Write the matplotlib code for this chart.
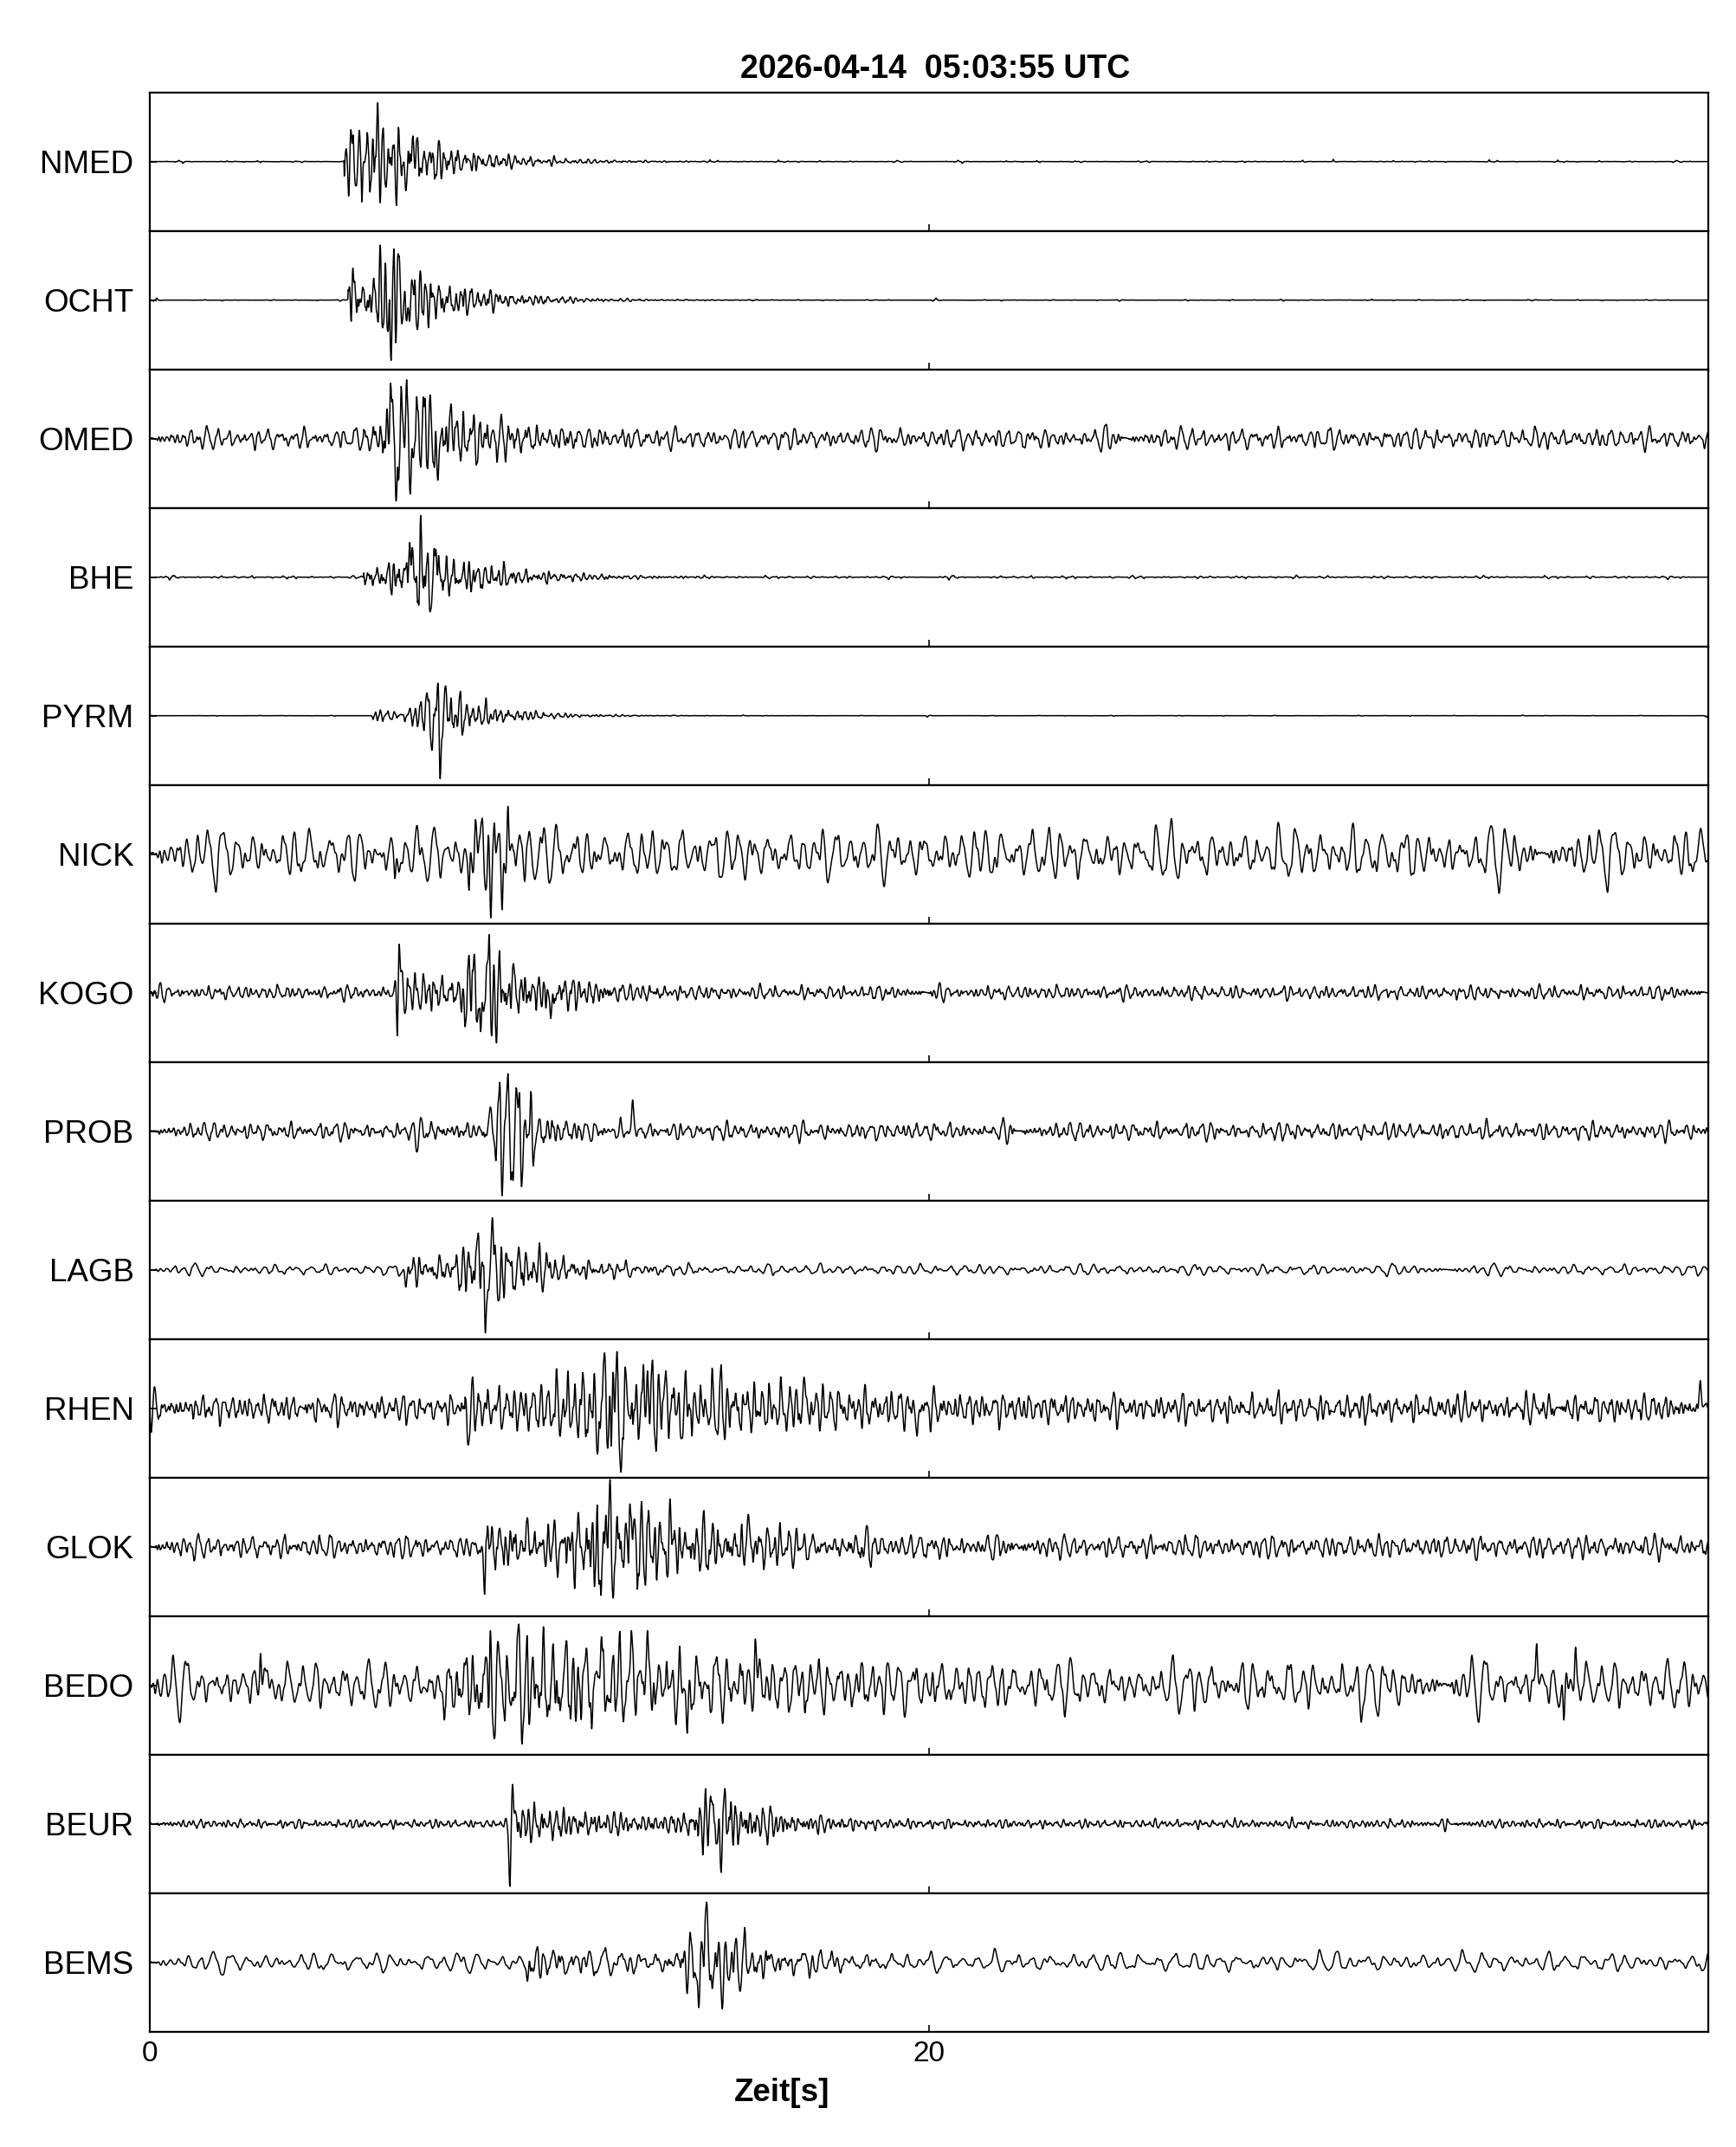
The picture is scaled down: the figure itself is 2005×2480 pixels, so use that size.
import numpy as np
import matplotlib.pyplot as plt

plt.rcParams['font.family'] = ['Liberation Sans', 'DejaVu Sans']

title = '2026-04-14  05:03:55 UTC'
stations = ['NMED', 'OCHT', 'OMED', 'BHE', 'PYRM', 'NICK', 'KOGO',
            'PROB', 'LAGB', 'RHEN', 'GLOK', 'BEDO', 'BEUR', 'BEMS']

# trace amplitudes are in units of half a panel height
noise_lvl = [0.03, 0.03, 0.12, 0.04, 0.02, 0.30, 0.08, 0.10, 0.06, 0.16, 0.13, 0.28, 0.05, 0.11]
noise_freq = [5.0, 5.0, 4.0, 5.0, 5.0, 2.8, 5.0, 4.5, 3.0, 5.0, 4.5, 3.0, 6.0, 2.4]
noise_shape = [3, 3, 1, 2, 3, 1, 1, 1, 1, 1, 1, 1, 1, 1]
sig_freq = [6.0, 6.0, 5.5, 6.0, 6.0, 4.0, 6.0, 5.0, 5.5, 5.0, 5.5, 4.5, 6.0, 4.5]

p_time = [5.0, 5.1, 5.5, 5.5, 5.7, 8.2, 6.37, 6.86, 6.6, 8.1, 8.55, 7.6, 9.25, 9.7]
p_amp = [0.35, 0.30, 0.15, 0.15, 0.08, 0.20, 0.30, 0.10, 0.20, 0.30, 0.35, 0.30, 0.25, 0.20]
p_decay = [2.0, 2.0, 2.0, 2.0, 2.0, 1.5, 2.0, 2.0, 2.0, 4.0, 3.0, 4.0, 4.0, 3.0]
s_time = [5.9, 6.2, 6.6, 6.9, 7.4, 8.8, 8.5, 9.2, 8.6, 11.9, 11.9, 10.5, 14.5, 14.4]
s_amp = [0.30, 0.40, 0.55, 0.35, 0.35, 0.30, 0.45, 0.50, 0.40, 0.50, 0.50, 0.50, 0.35, 0.45]
s_rise = [0.4, 0.4, 0.6, 0.6, 0.5, 0.4, 0.5, 0.4, 0.6, 1.5, 1.2, 2.0, 0.6, 0.8]
coda_tau = [1.6, 1.5, 2.2, 1.8, 1.2, 0.8, 1.8, 1.0, 1.8, 6.0, 3.5, 6.0, 1.5, 1.8]

# prominent peaks: times [s] and amplitudes
spike_t = [
    [5.05, 5.12, 5.17, 5.30, 5.86, 5.92, 6.00, 6.07, 6.58, 6.76],
    [5.15, 5.19, 5.22, 5.93, 5.98, 6.20, 6.28, 6.33, 6.38, 6.60, 7.82],
    [6.19, 6.33, 6.60, 6.69, 7.03, 7.40, 7.74],
    [6.68, 6.93, 6.96, 7.20, 7.35],
    [7.12, 7.25, 7.42, 7.46, 7.60],
    [6.30, 8.20, 8.37, 8.54, 8.76, 8.85, 9.05, 9.20],
    [6.33, 6.37, 6.41, 8.10, 8.20, 8.50, 8.72, 8.78, 9.34, 10.30],
    [6.86, 8.75, 9.00, 9.05, 9.20, 9.28, 9.50, 9.55, 9.80, 9.85, 12.40],
    [6.58, 8.44, 8.62, 8.80, 8.95],
    [8.18, 11.50, 11.68, 11.86, 11.90, 12.10, 12.78, 13.25, 13.65, 16.80, 19.70, 39.80],
    [8.60, 8.68, 9.70, 11.54, 11.82, 11.90, 12.33, 13.31, 13.36, 15.37],
    [2.85, 7.57, 8.72, 8.75, 8.85, 11.60, 12.37, 12.78, 13.80, 15.55, 31.10, 35.60, 36.30, 36.60],
    [9.25, 9.32, 14.40, 14.67, 14.77],
    [9.70, 14.10, 14.17, 14.30, 14.70],
]
spike_a = [
    [0.20, -0.60, 0.46, -0.35, 0.93, -0.60, 0.50, -0.37, -0.42, 0.37],
    [0.30, -0.65, 0.46, 0.90, -0.40, -0.88, 0.92, -0.75, 0.67, -0.30, -0.15],
    [0.80, -0.90, 0.85, -0.80, 0.60, -0.60, 0.50],
    [0.50, -0.91, 0.89, -0.50, 0.40],
    [0.33, -0.50, 0.70, -0.91, 0.43],
    [-0.35, -0.52, 0.50, 0.52, -0.92, 0.45, -0.80, 0.69],
    [0.30, -0.90, 0.70, -0.49, 0.54, -0.56, 0.92, -0.62, 0.42, -0.37],
    [-0.30, 0.35, 0.86, -0.93, 0.84, -0.70, 0.70, -0.80, 0.68, -0.50, 0.45],
    [-0.25, 0.53, -0.91, 0.75, -0.45],
    [-0.53, -0.66, 0.80, -0.79, 0.52, -0.92, 0.54, 0.54, -0.44, 0.45, -0.40, 0.40],
    [-0.69, 0.30, 0.42, -0.54, 0.98, -0.74, 0.62, -0.54, 0.69, 0.47],
    [0.46, -0.50, -0.77, 0.79, -0.77, 0.70, 0.79, 0.79, -0.69, 0.67, -0.53, 0.60, -0.50, 0.55],
    [-0.93, 0.57, 0.40, -0.70, 0.51],
    [-0.27, -0.67, 0.30, 0.87, -0.67],
]

t = np.arange(0, 40, 0.01)


def carrier(f0, seed):
    ratios = [0.52, 0.66, 0.79, 0.91, 1.0, 1.13, 1.29, 1.47, 1.71, 2.05, 2.6, 3.3, 4.1]
    weights = [0.5, 0.6, 0.8, 0.9, 1.0, 0.9, 0.8, 0.7, 0.55, 0.45, 0.35, 0.28, 0.2]
    c = np.zeros_like(t)
    for k, (r, w) in enumerate(zip(ratios, weights)):
        c += w * np.sin(2 * np.pi * f0 * r * t + 2.39996 * (k + 1) * (seed + 1) + 0.7 * k)
    return c / (np.std(c) * 1.8)


fig, axes = plt.subplots(len(stations), 1, figsize=(20.05, 24.8), dpi=100, sharex=True)
fig.subplots_adjust(left=0.0861, right=0.9839, top=0.957, bottom=0.0537, hspace=0)

for i, ax in enumerate(axes):
    cn = carrier(noise_freq[i], i)
    if noise_shape[i] > 1:
        cn = np.sign(cn) * np.abs(cn) ** noise_shape[i]
        cn = cn / np.abs(cn).max()
    cs = carrier(sig_freq[i], i + 17)

    after_p = t >= p_time[i]
    env_p = np.where(after_p, p_amp[i] * np.exp(-(t - p_time[i]) / p_decay[i]), 0.0)
    env_s = np.where(t < s_time[i],
                     np.exp(-((t - s_time[i]) / s_rise[i]) ** 2),
                     np.exp(-(t - s_time[i]) / coda_tau[i]))
    env_s = s_amp[i] * env_s * after_p
    trace = noise_lvl[i] * cn + (env_p + env_s) * cs

    for t0, a in zip(spike_t[i], spike_a[i]):
        g = np.exp(-((t - t0) / 0.035) ** 2)
        trace = trace * (1 - g) + a * g

    peak = np.abs(trace).max()
    if peak > 0.97:
        trace = trace * 0.97 / peak

    ax.plot(t, trace, color='black', linewidth=1.1)
    ax.set_ylim(-1, 1)
    ax.set_xlim(0, 40)
    ax.set_yticks([0])
    ax.set_yticklabels([stations[i]], fontsize=26.5)
    ax.set_xticks([0, 20])
    ax.tick_params(axis='both', direction='in', length=6, width=1.2, colors='black')
    ax.tick_params(axis='y', pad=13)
    ax.tick_params(axis='x', labelsize=24, pad=7)
    for sp in ax.spines.values():
        sp.set_linewidth(1.6)

axes[0].set_title(title, fontsize=27, fontweight='bold', pad=12, x=0.504)
axes[-1].set_xlabel('Zeit[s]', fontsize=26.5, fontweight='bold')
axes[-1].xaxis.set_label_coords(0.406, -0.33)
axes[-1].set_xticklabels(['0', '20'])

plt.savefig('out.png', dpi=100)
plt.close()
